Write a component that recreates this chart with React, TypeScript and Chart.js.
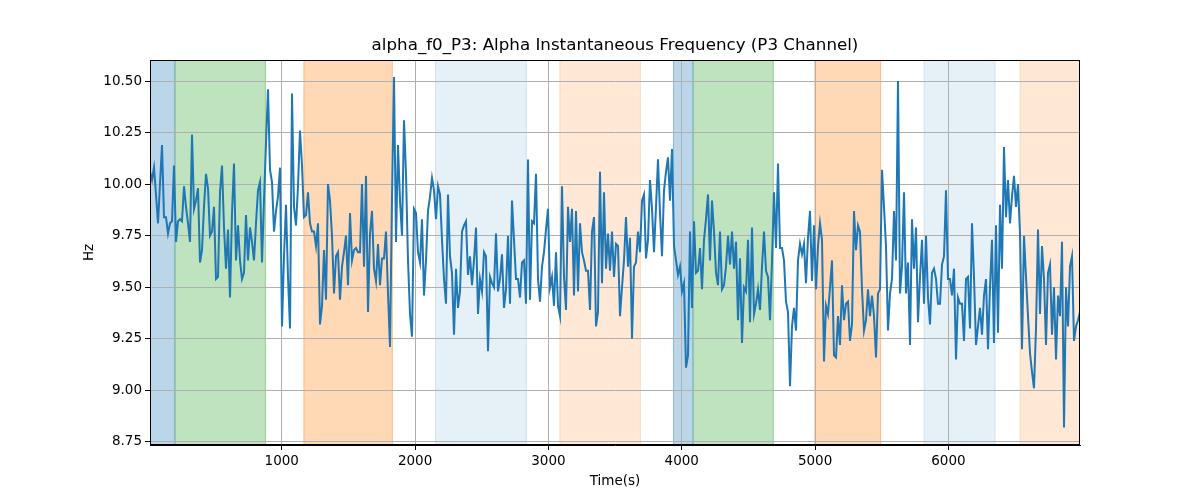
import React, { useEffect, useRef } from "react";
import { Chart, registerables } from "chart.js";

Chart.register(...registerables);

// Sampling of the recording (seconds)
const T_START = 12;
const T_STEP = 15;

// Alpha instantaneous frequency, P3 channel (Hz)
const freqValues: number[] = [
  10.06, 10.02, 10.08, 9.95, 9.81, 10.0, 10.19, 9.84, 9.84, 9.76,
  9.81, 9.82, 10.09, 9.72, 9.82, 9.83, 9.82, 9.99, 9.89, 9.81,
  9.72, 10.24, 9.88, 9.92, 9.98, 9.62, 9.68, 9.89, 10.05, 9.98,
  9.75, 9.77, 9.89, 9.54, 9.55, 9.96, 10.09, 9.79, 9.59, 9.78,
  9.45, 9.86, 10.1, 9.63, 9.8, 9.63,
  9.54, 9.57, 9.85, 9.63, 9.79, 9.72, 9.63, 9.81, 9.97, 10.01,
  9.62, 9.92, 10.2, 10.46, 10.07, 10.01, 9.77, 9.87, 9.94, 10.08,
  9.31, 9.65, 9.9, 9.55, 9.3, 10.44, 9.89, 9.8, 9.99, 10.26,
  10.09, 9.84, 9.85, 9.96, 9.81, 9.77, 9.77, 9.7, 9.81, 9.32,
  9.41, 9.68, 9.44, 10.0, 9.92, 9.75,
  9.47, 9.65, 9.67, 9.44, 9.6, 9.67, 9.75, 9.51, 9.86, 9.63,
  9.68, 9.69, 9.67, 9.67, 10.0, 9.6, 10.04, 9.38, 9.76, 9.87,
  9.59, 9.53, 9.71, 9.51, 9.64, 9.64, 9.77, 9.47, 9.21, 9.93,
  10.52, 9.72, 10.19, 9.92, 9.75, 10.31, 10.05, 9.63, 9.37, 9.26,
  9.88, 9.86, 9.67, 9.62, 9.83, 9.46,
  9.63, 9.87, 9.94, 10.03, 9.97, 9.83, 9.99, 9.95, 9.73, 9.54,
  9.42, 9.95, 9.65, 9.57, 9.27, 9.59, 9.4, 9.48, 9.77, 9.8,
  9.82, 9.56, 9.65, 9.51, 9.63, 9.79, 9.37, 9.54, 9.48, 9.67,
  9.65, 9.19, 9.55, 9.52, 9.5, 9.76, 9.48, 9.54, 9.66, 9.4,
  9.49, 9.75, 9.42, 9.92, 9.73, 9.54,
  9.54, 9.45, 9.62, 9.63, 9.42, 10.12, 9.44, 9.82, 9.81, 10.05,
  9.54, 9.43, 9.6, 9.67, 9.78, 9.88, 9.5, 9.55, 9.41, 9.67,
  9.41, 9.36, 9.99, 9.55, 9.39, 9.89, 9.72, 9.88, 9.46, 9.87,
  9.48, 9.81, 9.67, 9.63, 9.58, 9.58, 9.39, 9.77, 9.84, 9.31,
  9.38, 10.06, 9.52, 9.96, 9.59, 9.76,
  9.58, 9.77, 9.55, 9.71, 9.7, 9.36, 9.5, 9.63, 9.84, 9.6,
  9.74, 9.25, 9.6, 9.62, 9.77, 9.67, 9.92, 9.95, 9.64, 9.73,
  10.02, 9.88, 9.67, 9.89, 10.12, 9.86, 9.65, 9.97, 10.06, 10.13,
  9.92, 10.17, 9.7, 9.63, 9.56, 9.6, 9.48, 9.52, 9.11, 9.17,
  9.77, 9.4, 9.82, 9.57, 9.58, 9.69,
  9.49, 9.73, 9.83, 9.95, 9.63, 9.92, 9.77, 9.57, 9.51, 9.77,
  9.49, 9.51, 9.6, 9.75, 9.61, 9.77, 9.59, 9.72, 9.34, 9.64,
  9.23, 9.5, 9.48, 9.73, 9.33, 9.79, 9.37, 9.42, 9.49, 9.39,
  9.6, 9.77, 9.58, 9.55, 9.34, 9.63, 9.96, 9.69, 10.1, 9.69,
  9.69, 9.63, 9.43, 9.38, 9.02, 9.31,
  9.4, 9.29, 9.63, 9.71, 9.66, 9.71, 9.52, 9.74, 9.87, 9.53,
  9.8, 9.49, 9.7, 9.81, 9.73, 9.14, 9.41, 9.37, 9.5, 9.63,
  9.17, 9.16, 9.36, 9.22, 9.51, 9.34, 9.42, 9.43, 9.24, 9.32,
  9.87, 9.68, 9.8, 9.77, 9.49, 9.29, 9.34, 9.49, 9.36, 9.46,
  9.36, 9.16, 9.47, 9.49, 10.07, 9.89,
  9.7, 9.29, 9.47, 9.54, 9.87, 9.63, 10.5, 9.47, 9.6, 9.96,
  9.47, 9.62, 9.22, 9.83, 9.59, 9.79, 9.33, 9.55, 9.73, 9.42,
  9.75, 9.45, 9.32, 9.57, 9.59, 9.54, 9.42, 9.42, 9.61, 9.65,
  9.97, 9.54, 9.54, 9.46, 9.59, 9.15, 9.45, 9.42, 9.42, 9.24,
  9.54, 9.55, 9.3, 9.81, 9.55, 9.22,
  9.31, 9.4, 9.27, 9.46, 9.54, 9.2, 9.5, 9.73, 9.23, 9.8,
  9.28, 9.9, 9.59, 10.18, 9.84, 10.02, 9.81, 9.94, 10.04, 9.89,
  10.0, 9.76, 9.2, 9.75, 9.55, 9.36, 9.18, 9.09, 9.01, 9.3,
  9.78, 9.37, 9.7, 9.54, 9.22, 9.57, 9.61, 9.27, 9.5, 9.15,
  9.46, 9.36, 9.72, 8.82, 9.5, 9.31, 9.6, 9.65, 9.24, 9.31,
  9.34, 9.38,
];

// Shaded segments (seconds) and their kind
const bandStarts: number[] = [12, 199, 1163, 2150, 3083, 3935, 4085, 4995, 5815, 6535];
const bandEnds: number[] = [199, 881, 1833, 2838, 3693, 4085, 4690, 5495, 6353, 6987];
const bandKinds: string[] = [
  "blue", "green", "orange", "lightblue", "lightorange",
  "blue", "green", "orange", "lightblue", "lightorange",
];

const xTicks: number[] = [1000, 2000, 3000, 4000, 5000, 6000];
const yTicks: number[] = [8.75, 9.0, 9.25, 9.5, 9.75, 10.0, 10.25, 10.5];

const X_MIN = 12;
const X_MAX = 6987;
const Y_MIN = 8.735;
const Y_MAX = 10.602;

const TITLE = "alpha_f0_P3: Alpha Instantaneous Frequency (P3 Channel)";
const X_LABEL = "Time(s)";
const Y_LABEL = "Hz";

const BAND_COLORS: Record<string, string> = {
  blue: "rgba(31,119,180,0.3)",
  green: "rgba(44,160,44,0.3)",
  orange: "rgba(255,127,14,0.3)",
  lightblue: "rgba(31,119,180,0.11)",
  lightorange: "rgba(255,127,14,0.17)",
};

const FONT = "'DejaVu Sans', sans-serif";

export default function App() {
  const canvasRef = useRef<HTMLCanvasElement | null>(null);

  useEffect(() => {
    if (!canvasRef.current) return;
    const points = freqValues.map((v, i) => ({ x: T_START + i * T_STEP, y: v }));

    const bandsPlugin = {
      id: "bands",
      beforeDraw(chart: any) {
        const { ctx, chartArea, scales } = chart;
        const xs = scales.x;
        ctx.save();
        ctx.beginPath();
        ctx.rect(chartArea.left, chartArea.top, chartArea.right - chartArea.left, chartArea.bottom - chartArea.top);
        ctx.clip();
        for (let i = 0; i < bandStarts.length; i++) {
          const x0 = xs.getPixelForValue(bandStarts[i]);
          const x1 = xs.getPixelForValue(bandEnds[i]);
          const col = BAND_COLORS[bandKinds[i]];
          ctx.fillStyle = col;
          ctx.fillRect(x0, chartArea.top, x1 - x0, chartArea.bottom - chartArea.top);
          ctx.strokeStyle = col;
          ctx.lineWidth = 1;
          ctx.strokeRect(x0 + 0.5, chartArea.top - 1, x1 - x0 - 1, chartArea.bottom - chartArea.top + 2);
        }
        ctx.restore();
      },
      afterDraw(chart: any) {
        const { ctx, chartArea } = chart;
        ctx.save();
        ctx.strokeStyle = "#000";
        ctx.lineWidth = 1;
        ctx.strokeRect(
          Math.round(chartArea.left) + 0.5,
          Math.round(chartArea.top) + 0.5,
          Math.round(chartArea.right - chartArea.left) - 1,
          Math.round(chartArea.bottom - chartArea.top) - 1
        );
        ctx.fillStyle = "#000";
        ctx.textAlign = "center";
        ctx.textBaseline = "middle";
        const cx = (chartArea.left + chartArea.right) / 2;
        ctx.font = `16.7px ${FONT}`;
        ctx.fillText(TITLE, cx, 46);
        ctx.font = `13.5px ${FONT}`;
        ctx.fillText(X_LABEL, cx, 481);
        ctx.save();
        ctx.translate(89, (chartArea.top + chartArea.bottom) / 2);
        ctx.rotate(-Math.PI / 2);
        ctx.fillText(Y_LABEL, 0, 0);
        ctx.restore();
        ctx.restore();
      },
    };

    const chart = new Chart(canvasRef.current, {
      type: "line",
      data: {
        datasets: [
          {
            data: points,
            borderColor: "#1f77b4",
            borderWidth: 2,
            pointRadius: 0,
            tension: 0,
            fill: false,
          },
        ],
      },
      options: {
        animation: false,
        responsive: false,
        parsing: false as any,
        layout: { padding: { left: 0, right: 120, top: 60, bottom: 0 } },
        plugins: {
          legend: { display: false },
          title: { display: false },
          tooltip: { enabled: false },
        },
        scales: {
          x: {
            type: "linear",
            min: X_MIN,
            max: X_MAX,
            afterBuildTicks: (axis: any) => {
              axis.ticks = xTicks.map((v) => ({ value: v }));
            },
            afterFit: (s: any) => {
              s.height = 55;
            },
            grid: {
              color: "#b0b0b0",
              lineWidth: 1,
              tickColor: "#000",
              tickLength: 5,
              drawTicks: true,
            },
            border: { color: "#000", width: 1 },
            ticks: {
              color: "#000",
              font: { family: FONT, size: 13.5 },
              padding: 3,
              maxRotation: 0,
              autoSkip: false,
              callback: (v: any) => String(v),
            },
          },
          y: {
            type: "linear",
            min: Y_MIN,
            max: Y_MAX,
            afterBuildTicks: (axis: any) => {
              axis.ticks = yTicks.map((v) => ({ value: v }));
            },
            afterFit: (s: any) => {
              s.width = 150;
            },
            grid: {
              color: "#b0b0b0",
              lineWidth: 1,
              tickColor: "#000",
              tickLength: 5,
              drawTicks: true,
            },
            border: { color: "#000", width: 1 },
            ticks: {
              color: "#000",
              font: { family: FONT, size: 13.5 },
              padding: 3,
              autoSkip: false,
              callback: (v: any) => Number(v).toFixed(2),
            },
          },
        },
      },
      plugins: [bandsPlugin],
    });

    return () => {
      chart.destroy();
    };
  }, []);

  return (
    <div style={{ position: "absolute", left: 0, top: 0, width: 1200, height: 500, background: "#fff" }}>
      <canvas ref={canvasRef} width={1200} height={500} style={{ display: "block" }} />
    </div>
  );
}
